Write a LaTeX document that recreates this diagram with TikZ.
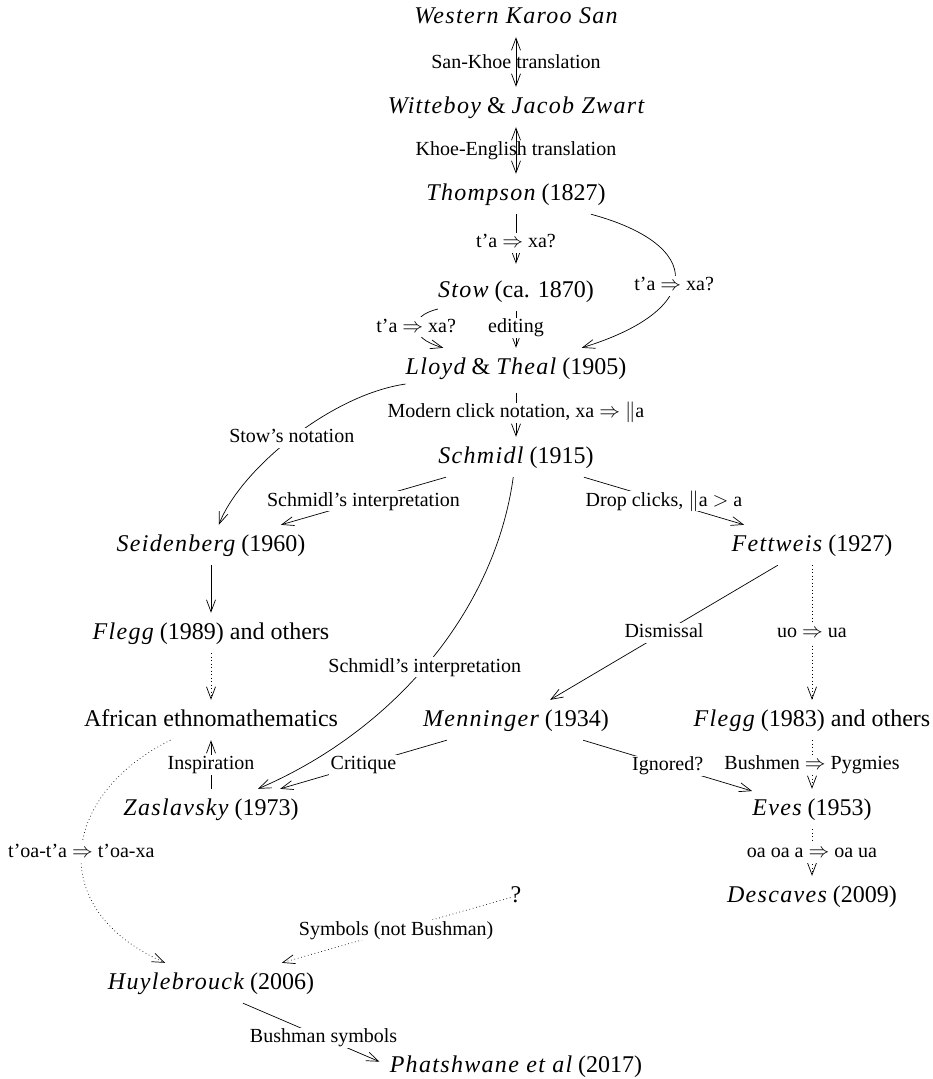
\documentclass[tikz,border=0pt]{standalone}
\usepackage{fontspec}
\setmainfont{Liberation Serif}
\newfontfamily\namefont{Liberation Serif}[LetterSpace=5.5]
\usetikzlibrary{arrows.meta}
\newcommand\who[1]{{\namefont\itshape #1}}
\newcommand\nodesize{\fontsize{24}{28}\selectfont}
\newcommand\labelsize{\fontsize{20}{24}\selectfont}
\tikzset{
  namenode/.style={inner sep=0pt, minimum height=40pt, text height=17pt, text depth=5pt, font=\nodesize},
  tiparrow/.style={-{Straight Barb[length=12pt,width=9pt]}, line width=0.7pt},
  twoarrow/.style={{Straight Barb[length=12pt,width=9pt]}-{Straight Barb[length=12pt,width=9pt]}, line width=0.7pt},
  dotarrow/.style={tiparrow, dash pattern=on 0.7pt off 2.8pt},
  edgelabel/.style={fill=white, inner xsep=2pt, inner ysep=2pt, text height=13pt, text depth=3pt, font=\labelsize},
  openlabel/.style={inner sep=2pt, font=\labelsize},
}

\begin{document}
\begin{tikzpicture}[x=1pt,y=-1pt]
\path[use as bounding box] (0,0) rectangle (932,1079);

% sources, centre column
\node[namenode] (karoo) at (516,17) {\who{Western Karoo San}};
\node[namenode] (witte) at (516,107) {\who{Witteboy} \& \who{Jacob Zwart}};
\node[namenode] (thomp) at (516,194) {\who{Thompson} (1827)};
\node[namenode] (stow) at (516,291) {\who{Stow} (ca. 1870)};
\node[namenode] (lloyd) at (516,368) {\who{Lloyd} \& \who{Theal} (1905)};
\node[namenode] (schmidl) at (516,457) {\who{Schmidl} (1915)};
\node[namenode] (seiden) at (211,545) {\who{Seidenberg} (1960)};
\node[namenode] (fett) at (812,545) {\who{Fettweis} (1927)};
\node[namenode] (flegga) at (211,633) {\who{Flegg} (1989) and others};
\node[namenode] (ethno) at (211,720) {African ethnomathematics};
\node[namenode] (menn) at (516,720) {\who{Menninger} (1934)};
\node[namenode] (fleggb) at (812,720) {\who{Flegg} (1983) and others};
\node[namenode] (zas) at (211,809) {\who{Zaslavsky} (1973)};
\node[namenode] (eves) at (812,809) {\who{Eves} (1953)};
\node[namenode] (desc) at (812,896) {\who{Descaves} (2009)};
\node[namenode] (unknown) at (516,896) {?};
\node[namenode] (huyle) at (211,983) {\who{Huylebrouck} (2006)};
\node[namenode] (phat) at (516,1066) {\who{Phatshwane et al} (2017)};

% translations and copies
\draw[twoarrow] (karoo) -- node[openlabel] {San-Khoe translation} (witte);
\draw[twoarrow] (witte) -- node[openlabel] {Khoe-English translation} (thomp);
\draw[tiparrow, shorten >=7pt] (thomp) -- node[edgelabel] {t'a $\Rightarrow$ xa?} (stow);
\draw[tiparrow] (thomp) .. controls (705,245) and (705,310) .. node[edgelabel, pos=0.55] {t'a $\Rightarrow$ xa?} (lloyd);
\draw[tiparrow] (stow) .. controls (408,316) and (408,338) .. node[edgelabel] {t'a $\Rightarrow$ xa?} (lloyd);
\draw[tiparrow] (stow) -- node[edgelabel, pos=0.45] {editing} (lloyd);
\draw[tiparrow, shorten <=5pt] (lloyd) -- node[edgelabel] {Modern click notation, xa $\Rightarrow$ $\|$a} (schmidl);

% readings of Schmidl
\draw[tiparrow] (lloyd) .. controls (330,395) and (240,470) .. node[edgelabel] {Stow's notation} (seiden);
\draw[tiparrow] (schmidl) -- node[edgelabel] {Schmidl's interpretation} (seiden);
\draw[tiparrow] (schmidl) .. controls (495,610) and (395,730) .. node[edgelabel, pos=0.52] {Schmidl's interpretation} (zas);
\draw[tiparrow] (schmidl) -- node[edgelabel] {Drop clicks, $\|$a $>$ a} (fett);
\draw[tiparrow] (seiden) -- (flegga);
\draw[dotarrow] (flegga) -- (ethno);
\draw[tiparrow] (fett) -- node[edgelabel] {Dismissal} (menn);
\draw[dotarrow] (fett) -- node[edgelabel] {uo $\Rightarrow$ ua} (fleggb);
\draw[tiparrow] (zas) -- node[edgelabel] {Inspiration} (ethno);
\draw[tiparrow] (menn) -- node[edgelabel] {Critique} (zas);
\draw[tiparrow] (menn) -- node[edgelabel] {Ignored?} (eves);
\draw[dotarrow] (fleggb) -- node[edgelabel] {Bushmen $\Rightarrow$ Pygmies} (eves);
\draw[dotarrow] (eves) -- node[edgelabel] {oa oa a $\Rightarrow$ oa ua} (desc);

% symbols
\draw[dotarrow] (ethno) .. controls (60,795) and (45,910) .. node[edgelabel] {t'oa-t'a $\Rightarrow$ t'oa-xa} (huyle);
\draw[dotarrow] (unknown) -- node[edgelabel] {Symbols (not Bushman)} (huyle);
\draw[tiparrow, shorten >=11pt] ([xshift=32pt]huyle.south) -- node[edgelabel, pos=0.55] {Bushman symbols} (phat.west);
\end{tikzpicture}
\end{document}
